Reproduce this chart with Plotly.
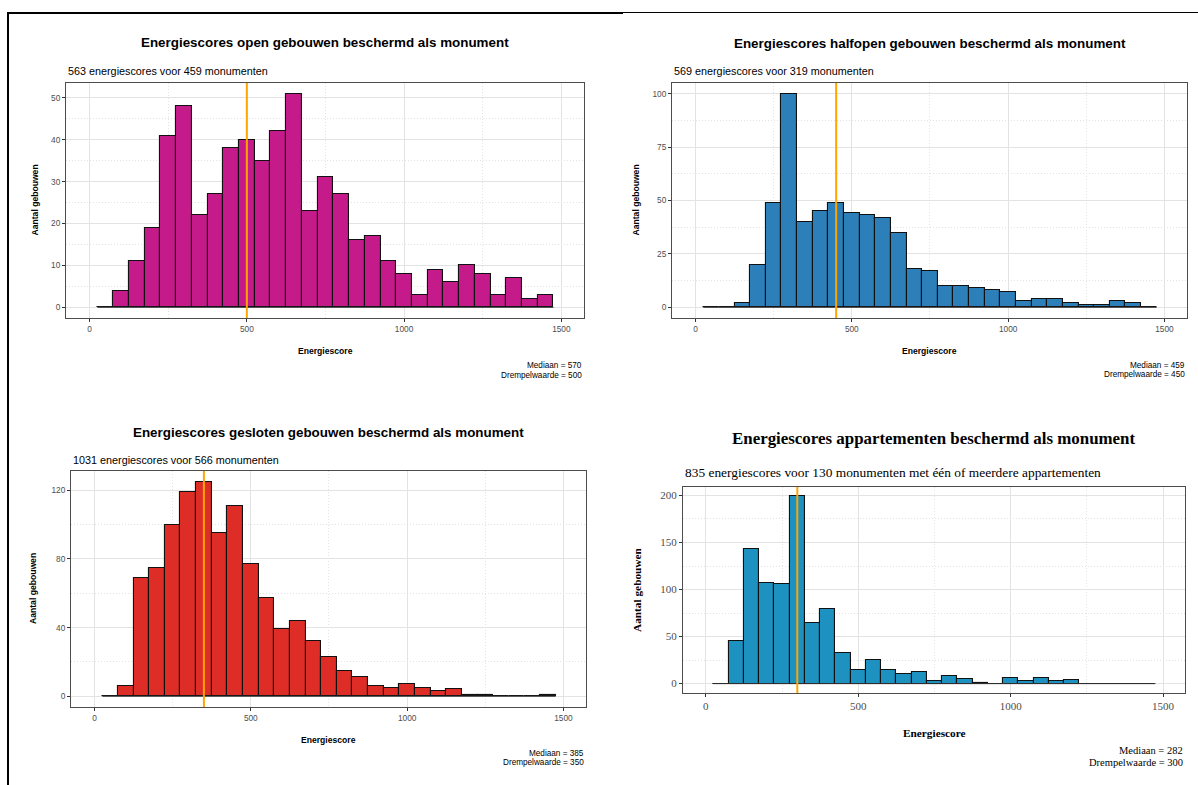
import plotly.graph_objects as go

W, H = 1198, 785

# ---- data ----
bin_centers = [50, 100, 150, 200, 250, 300, 350, 400, 450, 500, 550, 600, 650, 700, 750,
               800, 850, 900, 950, 1000, 1050, 1100, 1150, 1200, 1250, 1300, 1350, 1400, 1450]
bin_width = 50

open_counts = [0, 4, 11, 19, 41, 48, 22, 27, 38, 40, 35, 42, 51, 23, 31,
               27, 16, 17, 11, 8, 3, 9, 6, 10, 8, 3, 7, 2, 3]
halfopen_counts = [0, 0, 2, 20, 49, 100, 40, 45, 49, 44, 43, 42, 35, 18, 17,
                   10, 10, 9, 8, 7, 3, 4, 4, 2, 1, 1, 3, 2, 0]
gesloten_counts = [0, 6, 69, 75, 100, 119, 125, 95, 111, 77, 57, 39, 44, 32, 23,
                   15, 11, 6, 5, 7, 5, 3, 4, 1, 1, 0, 0, 0, 1]
appart_counts = [0, 45, 143, 107, 106, 199, 64, 79, 33, 15, 25, 14, 10, 12, 3,
                 8, 5, 1, 0, 6, 3, 6, 3, 4, 0, 0, 0, 0, 0]

titles = ["Energiescores open gebouwen beschermd als monument",
          "Energiescores halfopen gebouwen beschermd als monument",
          "Energiescores gesloten gebouwen beschermd als monument",
          "Energiescores appartementen beschermd als monument"]
subtitles = ["563 energiescores voor 459 monumenten",
             "569 energiescores voor 319 monumenten",
             "1031 energiescores voor 566 monumenten",
             "835 energiescores voor 130 monumenten met één of meerdere appartementen"]
medians = [570, 459, 385, 282]
thresholds = [500, 450, 350, 300]
x_ticks = [0, 500, 1000, 1500]
y_dticks = [10, 25, 40, 50]
y_ranges = [[-2.55, 53.55], [-5, 105], [-6.25, 131.25], [-9.95, 208.95]]
colors = ["#C51B8A", "#2C7FB8", "#DE2D26", "#1D91C0"]

# ---- layout geometry (pixels) ----
panels = [
    dict(x0=66, x1=584, y0=83, y1=318, font="Liberation Sans", serif=False,
         title_y=43, sub_y=71, xt_y=351, yt_x=34, cap_y=[365, 375]),
    dict(x0=672, x1=1187, y0=83, y1=318, font="Liberation Sans", serif=False,
         title_y=44, sub_y=71, xt_y=351, yt_x=635, cap_y=[365, 374]),
    dict(x0=71, x1=586, y0=471, y1=707, font="Liberation Sans", serif=False,
         title_y=432, sub_y=460, xt_y=740, yt_x=33, cap_y=[753, 762]),
    dict(x0=683, x1=1185, y0=487, y1=693, font="Liberation Serif", serif=True,
         title_y=438, sub_y=472, xt_y=733, yt_x=637, cap_y=[750, 762]),
]


def px(x):
    return x / W


def py(y):
    return 1 - y / H


fig = go.Figure()
annotations = []
shapes = []
all_counts = [open_counts, halfopen_counts, gesloten_counts, appart_counts]

for i, (counts, p) in enumerate(zip(all_counts, panels)):
    n = i + 1
    xa = "x" if n == 1 else f"x{n}"
    ya = "y" if n == 1 else f"y{n}"
    serif = p["serif"]
    fnt = p["font"]
    tick_size = 11 if serif else 8.3
    title_size = 16.9 if serif else 13.4
    sub_size = 13.4 if serif else 10.8
    axt_size = 11.3 if serif else 8.6
    cap_size = 10.5 if serif else 8.2

    # baseline (outline of the empty bins)
    fig.add_trace(go.Scatter(
        x=[bin_centers[0] - bin_width / 2, bin_centers[-1] + bin_width / 2], y=[0, 0],
        mode="lines", line=dict(color="#333333", width=1),
        xaxis=xa, yaxis=ya, showlegend=False, hoverinfo="skip"))
    fig.add_trace(go.Bar(
        x=bin_centers, y=counts, width=bin_width,
        marker=dict(color=colors[i], line=dict(color="#111111", width=1.1)),
        xaxis=xa, yaxis=ya, showlegend=False))

    axis_common = dict(
        showline=True, mirror=True, linecolor="#4d4d4d", linewidth=1,
        ticks="outside", ticklen=3, tickcolor="#333333", tickwidth=1,
        showgrid=True, gridcolor="#e3e3e3", gridwidth=1,
        zeroline=False,
        tickfont=dict(family=fnt, size=tick_size, color="#4d4d4d"),
        minor=dict(showgrid=True, gridcolor="#e3e3e3", griddash="1px,2px", gridwidth=1),
    )
    fig.update_layout(**{
        ("xaxis" if n == 1 else f"xaxis{n}"): dict(
            domain=[px(p["x0"]), px(p["x1"])], anchor=ya,
            range=[-75, 1572], tickmode="array", tickvals=x_ticks,
            minor_tickvals=[250, 750, 1250], **axis_common),
        ("yaxis" if n == 1 else f"yaxis{n}"): dict(
            domain=[py(p["y1"]), py(p["y0"])], anchor=xa,
            range=y_ranges[i], tick0=0, dtick=y_dticks[i],
            minor_dtick=y_dticks[i] / 2, minor_tick0=0, **axis_common),
    })

    # threshold line
    shapes.append(dict(type="line", xref=xa, yref=f"{ya} domain",
                       x0=thresholds[i], x1=thresholds[i], y0=0, y1=1,
                       line=dict(color="#FFA500", width=2), layer="above"))

    cx = px((p["x0"] + p["x1"]) / 2)
    annotations += [
        dict(text=f"<b>{titles[i]}</b>", x=cx, y=py(p["title_y"]), xanchor="center",
             yanchor="middle", font=dict(family=fnt, size=title_size, color="#000")),
        dict(text=subtitles[i], x=px(p["x0"]), y=py(p["sub_y"]), xanchor="left",
             yanchor="middle", font=dict(family=fnt, size=sub_size, color="#000")),
        dict(text="<b>Energiescore</b>", x=cx, y=py(p["xt_y"]), xanchor="center",
             yanchor="middle", font=dict(family=fnt, size=axt_size, color="#000")),
        dict(text="<b>Aantal gebouwen</b>", x=px(p["yt_x"]),
             y=py((p["y0"] + p["y1"]) / 2), xanchor="center", yanchor="middle",
             textangle=-90, font=dict(family=fnt, size=axt_size, color="#000")),
        dict(text=f"Mediaan = {medians[i]}", x=px(p["x1"]), y=py(p["cap_y"][0]),
             xanchor="right", yanchor="middle",
             font=dict(family=fnt, size=cap_size, color="#000")),
        dict(text=f"Drempelwaarde = {thresholds[i]}", x=px(p["x1"]), y=py(p["cap_y"][1]),
             xanchor="right", yanchor="middle",
             font=dict(family=fnt, size=cap_size, color="#000")),
    ]

for a in annotations:
    a.update(xref="paper", yref="paper", showarrow=False)

# page frame lines
shapes += [
    dict(type="line", xref="paper", yref="paper", x0=px(8), x1=px(8), y0=py(12), y1=0,
         line=dict(color="#000", width=2)),
    dict(type="line", xref="paper", yref="paper", x0=px(7), x1=px(623), y0=py(13), y1=py(13),
         line=dict(color="#000", width=2)),
    dict(type="line", xref="paper", yref="paper", x0=px(623), x1=1, y0=py(12.5), y1=py(12.5),
         line=dict(color="#000", width=1)),
]

fig.update_layout(
    width=W, height=H, margin=dict(l=0, r=0, t=0, b=0),
    paper_bgcolor="white", plot_bgcolor="white",
    bargap=0, showlegend=False,
    annotations=annotations, shapes=shapes,
)

fig.write_html("out.html",
               config={"displayModeBar": False},
               post_script="document.body.style.margin='0';"
                           "document.body.style.overflow='hidden';")
